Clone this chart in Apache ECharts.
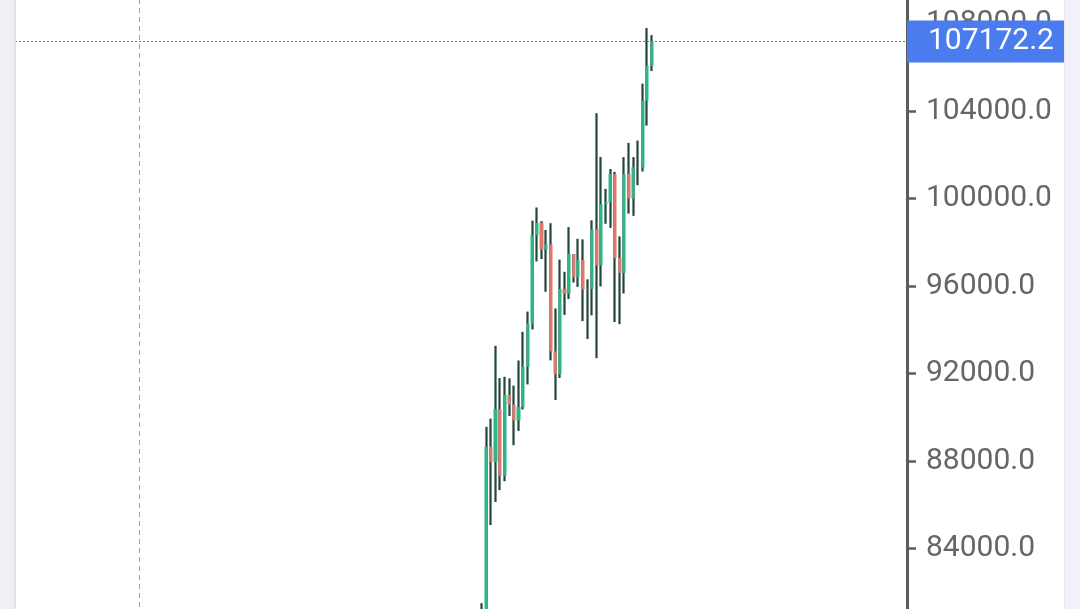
<!DOCTYPE html>
<html>
<head>
<meta charset="utf-8">
<script src="https://cdn.jsdelivr.net/npm/echarts@6/dist/echarts.min.js"></script>
<style>
html, body { margin: 0; padding: 0; background: #fff; }
#chart { width: 1080px; height: 609px; }
</style>
</head>
<body>
<div id="chart"></div>
<script>
// daily candles
var dates = ['2024-11-10', '2024-11-11', '2024-11-12', '2024-11-13', '2024-11-14', '2024-11-15', '2024-11-16',
  '2024-11-17', '2024-11-18', '2024-11-19', '2024-11-20', '2024-11-21', '2024-11-22', '2024-11-23',
  '2024-11-24', '2024-11-25', '2024-11-26', '2024-11-27', '2024-11-28', '2024-11-29', '2024-11-30',
  '2024-12-01', '2024-12-02', '2024-12-03', '2024-12-04', '2024-12-05', '2024-12-06', '2024-12-07',
  '2024-12-08', '2024-12-09', '2024-12-10', '2024-12-11', '2024-12-12', '2024-12-13', '2024-12-14',
  '2024-12-15', '2024-12-16', '2024-12-17'];
var openVals = [76677, 80370, 88648, 87952, 90375, 87325, 91032, 90587, 89855, 90465, 92310, 94287, 98318, 98893,
  97673, 97901, 93010, 91966, 95864, 95643, 97461, 96408, 97185, 95840, 95865, 98587, 96945, 99740,
  99831, 101109, 97276, 96593, 101126, 100004, 101424, 101420, 104463, 106058];
var closeVals = [80370, 88648, 87952, 90375, 87325, 91032, 90587, 89855, 90465, 92310, 94287, 98317, 98892, 97672,
  97900, 93010, 91965, 95863, 95643, 97460, 96408, 97185, 95840, 95865, 98587, 96945, 99740, 99831,
  101109, 97276, 96593, 101125, 100004, 101424, 101420, 104463, 106058, 107172.2];
var lowVals = [76492, 80216, 85072, 86127, 86668, 87073, 90056, 88722, 89376, 90357, 91500, 94013, 97122, 97232,
  95734, 92600, 90791, 91792, 94677, 95407, 96158, 95960, 94395, 93579, 94660, 92700, 95981, 98844,
  98657, 94350, 94256, 95658, 99311, 99205, 100610, 101234, 103333, 105825];
var highVals = [81500, 89560, 89940, 93265, 91790, 91850, 91779, 91449, 92594, 93905, 94831, 98988, 99588, 98967,
  98565, 98871, 94973, 97208, 96650, 98693, 97463, 98160, 98130, 96305, 99000, 103900, 101898, 100439,
  101350, 101215, 98270, 101888, 102540, 101895, 102650, 105250, 107793, 107469];
var yTicks = [80000, 84000, 88000, 92000, 96000, 100000, 104000, 108000, 112000];
var lastPrice = 107172.2;

// empty slots so the candles sit where the screen was scrolled to
var padBefore = 101, padAfter = 55;

var upColor = '#2db585';
var downColor = '#de786e';
var wickColor = '#22463a';

var cats = [];
for (var i = 0; i < padBefore; i++) cats.push('a' + i);
cats = cats.concat(dates);
for (var j = 0; j < padAfter; j++) cats.push('b' + j);

var rows = dates.map(function (d, k) {
  return [padBefore + k, openVals[k], closeVals[k], lowVals[k], highVals[k]];
});

var chart = echarts.init(document.getElementById('chart'));
var option = {
  animation: false,
  backgroundColor: '#fff',
  grid: { left: 15, right: 173, top: -64, bottom: -27, outerBoundsMode: 'none', containLabel: false },
  xAxis: {
    type: 'category',
    data: cats,
    boundaryGap: true,
    axisLine: { show: false },
    axisTick: { show: false },
    axisLabel: { show: false },
    splitLine: {
      show: true,
      interval: function (idx) { return idx === 0 || idx === 27; },
      lineStyle: { color: '#a0a0a0', type: [5, 4], width: 1 }
    }
  },
  yAxis: {
    type: 'value',
    position: 'right',
    min: yTicks[0],
    max: yTicks[yTicks.length - 1],
    interval: yTicks[1] - yTicks[0],
    axisLine: { show: true, lineStyle: { color: '#5c5c5c', width: 3 } },
    axisTick: { show: true, length: 9, lineStyle: { color: '#5c5c5c', width: 2.5 } },
    axisLabel: {
      margin: 19,
      color: '#666',
      fontSize: 30,
      fontFamily: 'Roboto',
      formatter: function (v) { return v.toFixed(1); }
    },
    splitLine: { show: false }
  },
  series: [
    {
      // wicks
      type: 'candlestick',
      data: rows,
      encode: { x: 0, y: [1, 2, 3, 4] },
      barWidth: 1,
      silent: true,
      itemStyle: {
        color: wickColor, color0: wickColor,
        borderColor: wickColor, borderColor0: wickColor,
        borderWidth: 2.2
      }
    },
    {
      // bodies
      type: 'candlestick',
      data: rows,
      encode: { x: 0, y: [1, 2, 3, 4] },
      barWidth: 3.6,
      silent: true,
      itemStyle: {
        color: upColor, color0: downColor,
        borderColor: upColor, borderColor0: downColor,
        borderWidth: 0
      },
      markLine: {
        silent: true,
        symbol: ['none', 'none'],
        data: [{ yAxis: lastPrice }],
        lineStyle: { color: '#6a72c2', type: [2, 2], width: 1 },
        label: {
          show: true,
          position: 'end',
          distance: 0,
          formatter: function (p) { return Number(p.value).toFixed(1); },
          color: '#fff',
          backgroundColor: '#4a7cf0',
          fontSize: 30,
          fontFamily: 'Roboto',
          lineHeight: 30,
          padding: [6, 12, 6, 21]
        }
      }
    }
  ],
  graphic: [
    { type: 'rect', z: 100, shape: { x: 0, y: 0, width: 14, height: 609 }, style: { fill: '#eef0f5' } },
    { type: 'rect', z: 100, shape: { x: 14, y: 0, width: 2, height: 609 }, style: { fill: '#e1e3e9' } },
    { type: 'rect', z: 100, shape: { x: 1064, y: 0, width: 1, height: 609 }, style: { fill: '#e6e7ee' } },
    { type: 'rect', z: 100, shape: { x: 1065, y: 0, width: 15, height: 609 }, style: { fill: '#f1f2f8' } }
  ]
};
chart.setOption(option);
</script>
</body>
</html>
